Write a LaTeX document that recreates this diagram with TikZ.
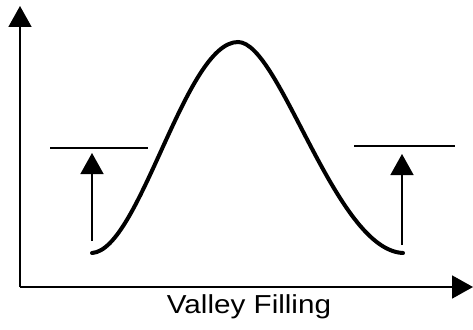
\documentclass[tikz,border=0pt]{standalone}
\usepackage{fontspec}
\setmainfont{Liberation Sans}
\usetikzlibrary{arrows.meta}
\begin{document}
\begin{tikzpicture}[x=1pt,y=-1pt,
  axis/.style={line width=1.8pt,-{Triangle[length=21pt,width=23pt]}},
  riser/.style={line width=1.5pt,-{Triangle[length=21pt,width=23pt]}},
  level/.style={line width=1.1pt},
  curve/.style={line width=4pt,line cap=round}]
\useasboundingbox (0,0) rectangle (473,329);
\coordinate (O) at (20,287);
\coordinate (Ytip) at (20,6);
\coordinate (Xtip) at (473,287);
\draw[axis] (O) -- (Ytip);
\draw[axis] (O) -- (Xtip);
% levels
\coordinate (L1) at (50,148);
\coordinate (L2) at (148,148);
\coordinate (R1) at (354,146);
\coordinate (R2) at (455,146);
\draw[level] (L1) -- (L2);
\draw[level] (R1) -- (R2);
% risers
\coordinate (A1) at (92,241);
\coordinate (A2) at (92,153);
\coordinate (B1) at (402,245);
\coordinate (B2) at (402,154);
\draw[riser] (A1) -- (A2);
\draw[riser] (B1) -- (B2);
% curve
\coordinate (C0) at (92,253);
\coordinate (Cpeak) at (238,42);
\coordinate (C1) at (403,253);
\draw[curve] (C0) .. controls (140,250) and (185,42) .. (Cpeak)
             .. controls (280,42) and (335,250) .. (C1);
\node[font=\fontsize{26}{30}\selectfont,anchor=base,xscale=1.14,inner sep=0pt] (lab) at (249,313) {Valley Filling};
\end{tikzpicture}
\end{document}
